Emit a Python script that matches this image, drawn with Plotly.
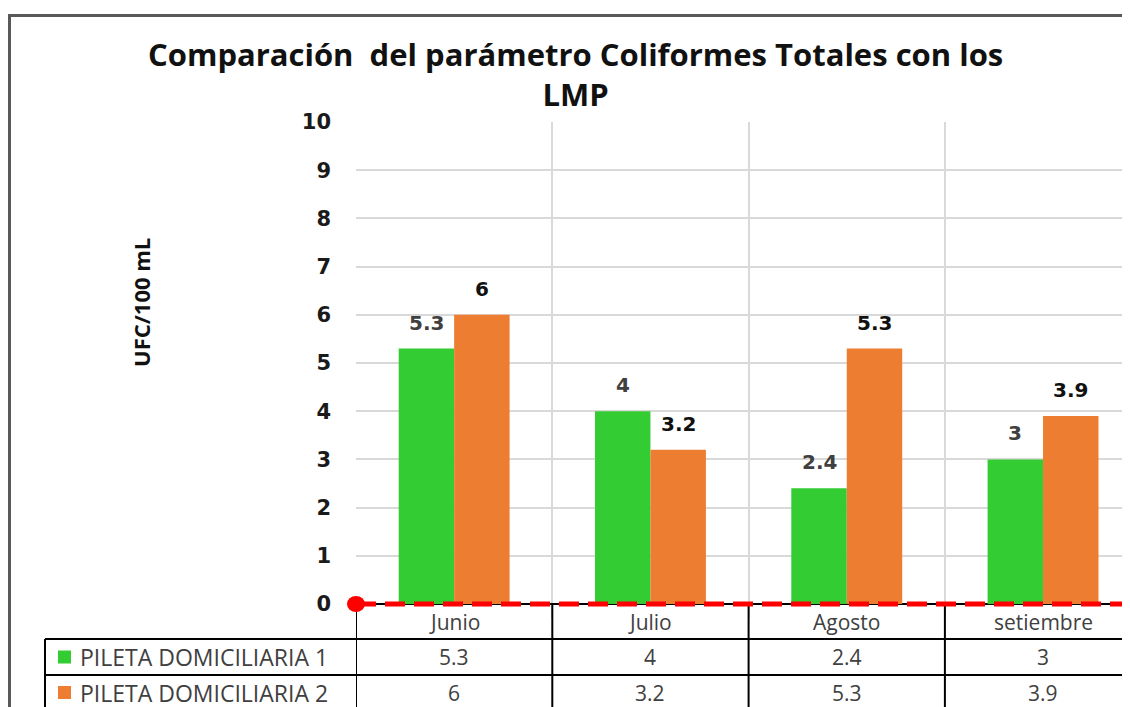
import plotly.graph_objects as go

# data
meses = ["Junio", "Julio", "Agosto", "setiembre"]
series_names = ["PILETA DOMICILIARIA 1", "PILETA DOMICILIARIA 2"]
pileta_1 = [5.3, 4, 2.4, 3]
pileta_2 = [6, 3.2, 5.3, 3.9]
lmp = 0
y_ticks = list(range(0, 11))

# the page body has an 8px margin, so the figure is laid out in page pixels minus that;
# the chart is cut off at the right and bottom, so the figure runs past the window
OFF = 8
W, H = 1140, 715
GREEN = "#33CC33"
ORANGE = "#ED7D31"
GRID = "#D9D9D9"
TXT = "#404040"


def fx(px):
    return (px - OFF) / W


def fy(py):
    return 1 - (py - OFF) / H


plot_left, plot_top, plot_bottom = 356, 122, 604
cat_px = 196.3
unit_px = (plot_bottom - plot_top) / 10
y_pad = 0.3  # a little room below 0 so the LMP line is not clipped
bargap = 0.435
row1_y, row2_y = 639, 675
table_left = 45

fig = go.Figure()

series = [
    (series_names[0], pileta_1, GREEN, "#404040"),
    (series_names[1], pileta_2, ORANGE, "#111111"),
]
for name, vals, color, lab_col in series:
    fig.add_trace(go.Bar(
        x=meses, y=vals, name=name,
        marker=dict(color=color, line_width=0),
        hoverinfo="skip",
    ))

# value labels above bars
half = cat_px * (1 - bargap) / 4
for k, (name, vals, color, lab_col) in enumerate(series):
    for m, v in zip(meses, vals):
        fig.add_annotation(
            x=m, y=v, xref="x", yref="y", text=f"{v:g}", showarrow=False,
            yanchor="bottom", yshift=12, xshift=-half if k == 0 else half,
            font=dict(family="DejaVu Sans", size=20, color=lab_col, weight="bold"),
        )

# data table below the axis
shapes = []
line_k = dict(color="black", width=2)
for yy in (row1_y, row2_y):
    shapes.append(dict(type="line", xref="paper", yref="paper",
                       x0=fx(table_left), x1=1.02, y0=fy(yy), y1=fy(yy), line=line_k))
shapes.append(dict(type="line", xref="paper", yref="paper",
                   x0=fx(table_left), x1=fx(table_left), y0=fy(row1_y), y1=-0.05, line=line_k))
for i in range(len(meses)):
    shapes.append(dict(type="line", xref="x", yref="paper",
                       x0=i - 0.5, x1=i - 0.5, y0=fy(plot_bottom), y1=-0.05, line=line_k))

# category row of the table
for m in meses:
    fig.add_annotation(x=m, y=fy((plot_bottom + row1_y) / 2), xref="x", yref="paper",
                       text=m, showarrow=False, yanchor="middle",
                       font=dict(family="Open Sans", size=21, color=TXT))

row_centers = [(row1_y + row2_y) / 2, (row2_y + 707 + 3) / 2]
for (name, vals, color, lab_col), rc in zip(series, row_centers):
    shapes.append(dict(type="rect", xref="paper", yref="paper",
                       x0=fx(58), x1=fx(71), y0=fy(rc - 6.5), y1=fy(rc + 6.5),
                       fillcolor=color, line_width=0))
    fig.add_annotation(x=fx(78), y=fy(rc), xref="paper", yref="paper", text=name,
                       showarrow=False, xanchor="left", yanchor="middle",
                       font=dict(family="Open Sans", size=23, color=TXT))
    for m, v in zip(meses, vals):
        fig.add_annotation(x=m, y=fy(rc), xref="x", yref="paper", text=f"{v:g}",
                           showarrow=False, yanchor="middle",
                           font=dict(family="Open Sans", size=21, color=TXT))

# LMP line (limit = 0)
shapes.append(dict(type="line", xref="x domain", yref="y", x0=0, x1=1, y0=lmp, y1=lmp,
                   line=dict(color="#FF0000", width=5, dash="20px,9px")))
shapes.append(dict(type="circle", xref="paper", yref="y", xsizemode="pixel",
                   ysizemode="pixel", xanchor=fx(plot_left), yanchor=lmp,
                   x0=-9, x1=9, y0=-8, y1=8, fillcolor="#FF0000", line_width=0))

# outer frame of the chart
shapes.append(dict(type="rect", xref="paper", yref="paper",
                   x0=fx(9.5), x1=1.05, y0=fy(15.5), y1=-0.05,
                   line=dict(color="#595959", width=3), layer="below"))

fig.add_annotation(
    x=fx(141), y=fy(303), xref="paper", yref="paper", text="UFC/100 mL",
    textangle=-90, showarrow=False, xanchor="center", yanchor="middle",
    font=dict(family="Open Sans", size=22, color="#111111", weight="bold"),
)

# chart title
fig.add_annotation(
    x=fx(575), y=fy(74), xref="paper", yref="paper",
    text="Comparación\u00a0 del parámetro Coliformes Totales con los<br>LMP",
    showarrow=False, xanchor="center", yanchor="middle",
    font=dict(family="Open Sans", size=31, color="#111111", weight="bold"),
)

fig.update_layout(
    width=W, height=H,
    margin=dict(l=0, r=0, t=0, b=0, pad=0),
    paper_bgcolor="white", plot_bgcolor="white",
    barmode="group", bargap=bargap, bargroupgap=0,
    showlegend=False,
    shapes=shapes,
    xaxis=dict(
        domain=[fx(plot_left), 1], type="category", automargin=False,
        range=[-0.5, -0.5 + (OFF + W - plot_left) / cat_px],
        tickson="boundaries", showgrid=True, gridcolor=GRID, gridwidth=2,
        showline=False, ticks="", showticklabels=False,
    ),
    yaxis=dict(
        domain=[fy(plot_bottom + y_pad * unit_px), fy(plot_top)],
        range=[-y_pad, 10], automargin=False,
        tickvals=y_ticks, showgrid=True, gridcolor=GRID, gridwidth=2,
        zeroline=True, zerolinecolor="black", zerolinewidth=2,
        showline=False, ticks="", ticklabelstandoff=24,
        tickfont=dict(family="DejaVu Sans", size=21, color="#1a1a1a", weight="bold"),
    ),
)

fig.write_html("out.html")
